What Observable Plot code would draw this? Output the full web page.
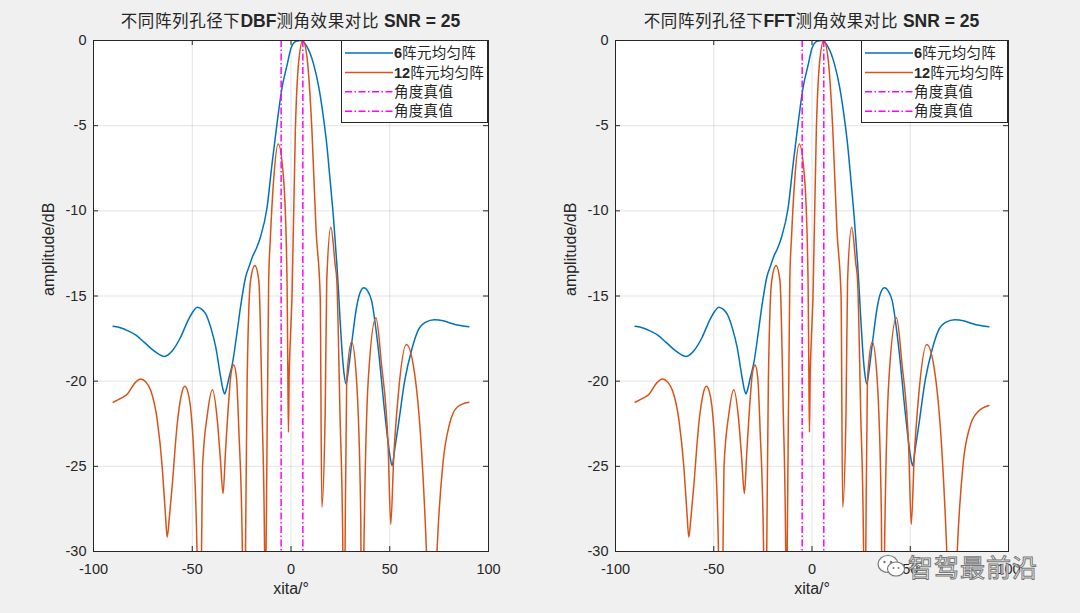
<!DOCTYPE html>
<html><head><meta charset="utf-8">
<script src="https://cdn.jsdelivr.net/npm/d3@7"></script>
<script src="https://cdn.jsdelivr.net/npm/@observablehq/plot@0.6"></script>
<style>
body{margin:0;background:#f0f0f0;}
#fig{position:relative;width:1080px;height:613px;background:#f0f0f0;overflow:hidden;font-family:"Liberation Sans",Arial,sans-serif;color:#262626}
.panel{position:absolute;top:0}
.title{position:absolute;top:8px;font-size:17.5px;white-space:nowrap;transform:translateX(-50%);line-height:24px}
.title .cjk{font-family:"Noto Sans CJK SC",sans-serif;font-weight:400;font-size:16.5px;letter-spacing:0.6px}
.title b{font-weight:700}
.legend{position:absolute;background:#fff;border:1px solid #262626;box-sizing:border-box}
.wm{position:absolute;font-family:"Noto Sans CJK SC",sans-serif;font-size:25px;color:#fff;-webkit-text-stroke:1px #777;letter-spacing:1px}
</style></head>
<body>
<div id="fig"></div>
<script>
// ---- data ----
const xTicks = [-100, -50, 0, 50, 100];
const yTicks = [-30, -25, -20, -15, -10, -5, 0];
const trueAngles = [-5, 6];

const blueX = [-90, -86, -82.8, -78.5, -74.4, -69, -64, -60, -55.9, -52, -49.2, -47.5, -45, -43.2, -40.5, -38.1, -35.6, -34.3, -33.6, -32.8, -31.4, -29.7, -27.2, -25.5, -23, -21, -19.6, -17.5, -15.5, -12.1, -9.6, -7.1, -4.5, -2, 0, 2.5, 5, 8, 11.4, 14, 16.4, 18.2, 19.8, 21.5, 23.2, 24, 24.8, 25.7, 26.8, 27.9, 29, 30.7, 33.2, 35, 36.9, 38.8, 40.8, 44.1, 47.5, 50, 51.2, 52.5, 54.2, 57.6, 61, 64.3, 68, 72.7, 77, 81.1, 85, 90];
const blueY = [-16.78, -16.88, -17.03, -17.3, -17.71, -18.25, -18.55, -18.2, -17.42, -16.4, -15.85, -15.66, -15.8, -16.05, -16.9, -18.0, -19.77, -20.55, -20.75, -20.5, -19.8, -18.99, -17.03, -15.6, -13.9, -13.2, -12.72, -12.2, -11.55, -9.79, -7.24, -4.89, -2.74, -1.45, -0.45, -0.05, 0, -0.35, -1.37, -2.7, -4.5, -6.2, -8.2, -10.4, -13.1, -14.6, -16.3, -18.0, -19.5, -20.16, -19.4, -17.8, -15.66, -14.8, -14.52, -14.7, -15.27, -18.0, -21.9, -24.3, -24.96, -24.0, -22.7, -19.96, -18.2, -17.03, -16.55, -16.4, -16.45, -16.6, -16.72, -16.8];

const orangeX = [-90, -86, -82.8, -79, -76.1, -73.5, -71, -67.7, -65.2, -63.6, -62.7, -61.6, -60.2, -57.6, -55.5, -53.8, -52.3, -50.9, -49.2, -47.6, -46.4, -45.3, -44.8, -42.3, -39.8, -37.3, -35.8, -34.4, -33.2, -31.4, -30.3, -29, -27.6, -26.4, -24.7, -23.8, -23, -22.2, -20.5, -18.3, -16.3, -14.6, -13.4, -13.0, -12.6, -11.8, -11.3, -10.4, -8.8, -6.5, -3.7, -2, -1.6, -1.3, -0.9, -0.35, 0.5, 2.2, 3.8, 6, 8.1, 10.6, 12.7, 14.8, 15.6, 17.3, 18.1, 20.2, 22.3, 23.2, 24.8, 26.2, 26.8, 27.4, 28.2, 30.7, 33.2, 35.3, 35.9, 36.9, 39.1, 43, 45.8, 49.2, 50.5, 52, 54.2, 58.4, 62.6, 66, 68.5, 71.2, 74, 76.9, 80.3, 84.4, 90];
const dbfOrangeY = [-21.24, -21.0, -20.75, -20.1, -19.87, -20.05, -20.55, -22.3, -25.05, -27.8, -29.16, -28.0, -26.2, -22.5, -20.8, -20.3, -20.6, -21.5, -24.3, -29.95, -40, -30, -25.05, -21.92, -20.5, -22.3, -24.5, -26.6, -24.2, -20.95, -19.5, -19.05, -19.8, -22.9, -29.4, -40, -29.5, -19.96, -14.1, -13.21, -14.1, -21.9, -29.75, -40, -29.7, -19.96, -14.1, -11.5, -8.2, -6.07, -8.2, -14.1, -19.5, -23.0, -19.5, -17.6, -15.07, -5.28, -1.37, 0, -0.98, -5.28, -11.16, -15.07, -27.4, -21.9, -14.1, -10.96, -13.1, -14.1, -21.9, -29.4, -40, -29.5, -19.96, -17.7, -19.96, -27.8, -40, -30, -19.96, -16.28, -19.0, -23.9, -28.4, -24.5, -20.95, -17.85, -19.57, -23.9, -29.75, -40, -29.8, -24.86, -22.5, -21.5, -21.24];
const fftOrangeY = [-21.24, -21.0, -20.75, -20.1, -19.87, -20.05, -20.55, -22.3, -25.05, -27.8, -29.16, -28.0, -26.2, -22.5, -20.8, -20.3, -20.6, -21.5, -24.3, -29.95, -40, -30, -25.05, -21.92, -20.5, -22.3, -24.5, -26.6, -24.2, -20.95, -19.5, -19.05, -19.8, -22.9, -29.4, -40, -29.5, -19.96, -14.1, -13.21, -14.1, -21.9, -29.75, -40, -29.7, -19.96, -14.1, -11.5, -8.2, -6.07, -8.2, -14.1, -19.5, -23.0, -19.5, -17.6, -15.07, -5.28, -1.37, 0, -0.98, -5.28, -11.16, -15.07, -27.4, -21.9, -14.1, -10.96, -13.1, -14.1, -21.9, -29.4, -40, -29.5, -19.96, -17.7, -19.96, -27.8, -40, -30, -19.96, -16.28, -19.0, -23.9, -28.4, -24.5, -20.95, -17.85, -19.57, -23.9, -29.75, -40, -29.8, -24.86, -22.7, -21.8, -21.43];

const legendLabels = ["6阵元均匀阵", "12阵元均匀阵", "角度真值", "角度真值"];
const titles = ["DBF", "FFT"];

// ---- colours / styles ----
const BLUE = "#0072BD", ORANGE = "#D95319", MAGENTA = "#FF00FF", AX = "#262626";
const DASH = "7,2.5,1.5,2.5";

const fig = document.getElementById("fig");

function panel(left, mL, mR, orangeY, tag) {
  const W = 540, H = 613, mT = 40, mB = 62;
  const fw = W - mL - mR, fh = H - mT - mB;
  const blue = blueX.map((x, i) => ({x, y: blueY[i]}));
  const orange = orangeX.map((x, i) => ({x, y: orangeY[i]}));
  const svg = Plot.plot({
    width: W, height: H, marginLeft: mL, marginRight: mR, marginTop: mT, marginBottom: mB,
    style: {background: "transparent", fontFamily: "'Liberation Sans', Arial, sans-serif", color: AX, overflow: "visible"},
    x: {domain: [-100, 100]},
    y: {domain: [-30, 0]},
    marks: [
      Plot.frame({fill: "white", stroke: null}),
      Plot.gridX(xTicks, {stroke: AX, strokeOpacity: 0.13, strokeWidth: 1}),
      Plot.gridY(yTicks, {stroke: AX, strokeOpacity: 0.13, strokeWidth: 1}),
      Plot.line(blue, {x: "x", y: "y", stroke: BLUE, strokeWidth: 1.5, clip: true, curve: "monotone-x"}),
      Plot.line(orange, {x: "x", y: "y", stroke: ORANGE, strokeWidth: 1.5, clip: true, curve: "monotone-x"}),
      Plot.ruleX(trueAngles, {stroke: MAGENTA, strokeWidth: 1.5, strokeDasharray: DASH}),
      Plot.ruleX(xTicks, {stroke: AX, insetTop: fh - 5}),
      Plot.ruleX(xTicks, {stroke: AX, insetBottom: fh - 5}),
      Plot.ruleY(yTicks, {stroke: AX, insetRight: fw - 5}),
      Plot.ruleY(yTicks, {stroke: AX, insetLeft: fw - 5}),
      Plot.frame({stroke: AX, strokeWidth: 1}),
      Plot.axisX(xTicks, {tickSize: 0, tickPadding: 12, fontSize: 14.5, label: null, fill: AX, tickFormat: d => String(d)}),
      Plot.axisY(yTicks, {tickSize: 0, tickPadding: 7, fontSize: 14.5, label: null, fill: AX, tickFormat: d => String(d)}),
      Plot.text(["xita/°"], {text: d => d, frameAnchor: "bottom", dy: 42, fontSize: 16, fill: AX}),
      Plot.text(["amplitude/dB"], {text: d => d, frameAnchor: "left", dx: -45, rotate: -90, fontSize: 16, fill: AX})
    ]
  });
  svg.classList.add("panel");
  svg.style.left = left + "px";
  fig.appendChild(svg);

  // title
  const cx = left + mL + fw / 2;
  const t = document.createElement("div");
  t.className = "title";
  t.style.left = cx + "px";
  t.innerHTML = `<span class="cjk">不同阵列孔径下</span><b>${tag}</b><span class="cjk">测角效果对比</span><b> SNR = 25</b>`;
  fig.appendChild(t);

  // legend
  const lw = 147, lh = 83;
  const lg = document.createElement("div");
  lg.className = "legend";
  lg.style.left = (left + W - mR - lw) + "px";
  lg.style.top = mT + "px";
  lg.style.width = lw + "px";
  lg.style.height = lh + "px";
  const styles = [
    {c: BLUE, d: null}, {c: ORANGE, d: null}, {c: MAGENTA, d: DASH}, {c: MAGENTA, d: DASH}
  ];
  let s = `<svg width="${lw}" height="${lh}" style="position:absolute;left:-1px;top:-1px">`;
  legendLabels.forEach((lab, i) => {
    const y = 13 + i * 19.4;
    s += `<line x1="4" x2="52" y1="${y}" y2="${y}" stroke="${styles[i].c}" stroke-width="1.5" ${styles[i].d ? `stroke-dasharray="${styles[i].d}"` : ""}/>`;
    const m = lab.match(/^(\d*)(.*)$/);
    s += `<text x="53" y="${y}" dy="0.36em" font-size="14.5" fill="${AX}"><tspan font-family="Liberation Sans, Arial" font-weight="700">${m[1]}</tspan><tspan font-family="Noto Sans CJK SC" letter-spacing="0.3">${m[2]}</tspan></text>`;
  });
  s += `</svg>`;
  lg.innerHTML = s;
  fig.appendChild(lg);
}

panel(0, 93, 52, dbfOrangeY, titles[0]);
panel(540, 75, 72, fftOrangeY, titles[1]);

// watermark
const wmIcon = document.createElement("div");
wmIcon.style.cssText = "position:absolute;left:876px;top:553px";
wmIcon.innerHTML = `<svg width="32" height="26"><ellipse cx="12" cy="11" rx="10" ry="8.5" fill="#fff" stroke="#777" stroke-width="1.2"/><ellipse cx="20" cy="16" rx="8.5" ry="7" fill="#fff" stroke="#777" stroke-width="1.2"/><circle cx="8.5" cy="9" r="1.2" fill="#777"/><circle cx="15" cy="9" r="1.2" fill="#777"/><circle cx="17.5" cy="15" r="1" fill="#777"/><circle cx="22.5" cy="15" r="1" fill="#777"/></svg>`;
fig.appendChild(wmIcon);
const wm = document.createElement("div");
wm.className = "wm";
wm.style.left = "908px";
wm.style.top = "548px";
wm.textContent = "智驾最前沿";
fig.appendChild(wm);
</script>
</body></html>
